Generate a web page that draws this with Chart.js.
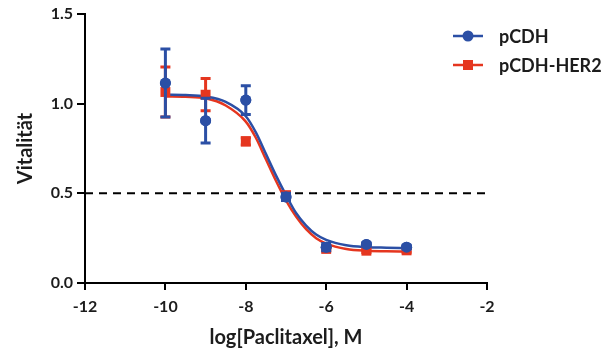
<!DOCTYPE html>
<html>
<head>
<meta charset="utf-8">
<script src="https://cdn.jsdelivr.net/npm/chart.js@4/dist/chart.umd.min.js"></script>
<style>
  body { margin: 0; background: #fff; }
  #wrap { width: 611px; height: 353px; }
</style>
</head>
<body>
<div id="wrap"><canvas id="c"></canvas></div>
<script>
// measured concentrations (log M)
var doses = [-10, -9, -8, -7, -6, -5, -4];

// pCDH means and SEM
var pcdhMean = [1.115, 0.905, 1.02, 0.48, 0.20, 0.215, 0.20];
var pcdhErr  = [0.19, 0.125, 0.08, 0.02, 0.02, 0.01, 0.01];

// pCDH-HER2 means and SEM
var herMean = [1.065, 1.05, 0.79, 0.49, 0.19, 0.18, 0.182];
var herErr  = [0.14, 0.09, 0.02, 0.01, 0.01, 0.01, 0.01];

// fitted curves
var curveX   = [-10, -9.5, -9, -8.5, -8, -7.75, -7.5, -7.25, -7, -6.75, -6.5, -6.25, -6, -5.5, -5, -4.5, -4];
var pcdhFit  = [1.05, 1.048, 1.04, 1.01, 0.93, 0.84, 0.72, 0.60, 0.49, 0.39, 0.32, 0.27, 0.24, 0.21, 0.20, 0.197, 0.195];
var herFit   = [1.04, 1.038, 1.03, 0.99, 0.90, 0.81, 0.69, 0.57, 0.46, 0.37, 0.30, 0.25, 0.22, 0.19, 0.18, 0.177, 0.175];

var xTicks = [-12, -10, -8, -6, -4, -2];
var yTicks = [0, 0.5, 1.0, 1.5];
var halfLine = 0.5;

var blue = '#2b4fa5';
var red = '#e5361f';

function pts(xs, ys) {
  return xs.map(function (x, i) { return { x: x, y: ys[i] }; });
}

// error bars drawn through the scales
var errorBars = {
  id: 'errorBars',
  afterDatasetsDraw: function (chart) {
    var ctx = chart.ctx;
    var xs = chart.scales.x, ys = chart.scales.y;
    [[herMean, herErr, red], [pcdhMean, pcdhErr, blue]].forEach(function (s) {
      ctx.save();
      ctx.strokeStyle = s[2];
      ctx.lineWidth = 3;
      doses.forEach(function (d, i) {
        var px = xs.getPixelForValue(d);
        var top = ys.getPixelForValue(s[0][i] + s[1][i]);
        var bot = ys.getPixelForValue(s[0][i] - s[1][i]);
        ctx.beginPath();
        ctx.moveTo(px, top); ctx.lineTo(px, bot);
        ctx.moveTo(px - 5, top); ctx.lineTo(px + 5, top);
        ctx.moveTo(px - 5, bot); ctx.lineTo(px + 5, bot);
        ctx.stroke();
      });
      ctx.restore();
    });
    // redraw blue points on top of bars
    var meta = chart.getDatasetMeta(3);
    meta.data.forEach(function (p) { p.draw(ctx); });
  }
};

// legend with line + marker
var sideLegend = {
  id: 'sideLegend',
  afterDraw: function (chart) {
    var ctx = chart.ctx;
    var items = [['pCDH', blue, 'circle', 36], ['pCDH-HER2', red, 'rect', 65]];
    ctx.save();
    items.forEach(function (it) {
      var y = it[3];
      ctx.strokeStyle = it[1];
      ctx.lineWidth = 2.5;
      ctx.beginPath(); ctx.moveTo(453, y); ctx.lineTo(483, y); ctx.stroke();
      ctx.fillStyle = it[1];
      if (it[2] === 'circle') {
        ctx.beginPath(); ctx.arc(468, y, 5.5, 0, Math.PI * 2); ctx.fill();
      } else {
        ctx.fillRect(463, y - 5, 10, 10);
      }
      ctx.fillStyle = '#1c1c1c';
      ctx.font = 'bold 18px Lato';
      ctx.textBaseline = 'middle';
      ctx.fillText(it[0], 499, y + 1);
    });
    ctx.restore();
  }
};

new Chart(document.getElementById('c'), {
  type: 'scatter',
  data: {
    datasets: [
      {
        label: 'half',
        type: 'line',
        data: [{ x: -12, y: halfLine }, { x: -2, y: halfLine }],
        borderColor: '#000', borderWidth: 2, borderDash: [8, 6],
        pointRadius: 0, order: 5
      },
      {
        label: 'pCDH-HER2 fit', type: 'line', data: pts(curveX, herFit),
        borderColor: red, borderWidth: 2.5, pointRadius: 0,
        cubicInterpolationMode: 'monotone', order: 4
      },
      {
        label: 'pCDH fit', type: 'line', data: pts(curveX, pcdhFit),
        borderColor: blue, borderWidth: 2.5, pointRadius: 0,
        cubicInterpolationMode: 'monotone', order: 3
      },
      {
        label: 'pCDH', data: pts(doses, pcdhMean),
        pointStyle: 'circle', pointRadius: 5.5,
        backgroundColor: blue, borderColor: blue, borderWidth: 0, order: 1
      },
      {
        label: 'pCDH-HER2', data: pts(doses, herMean),
        pointStyle: 'rect', pointRadius: 7,
        backgroundColor: red, borderColor: red, borderWidth: 0, order: 2
      }
    ]
  },
  options: {
    responsive: true,
    maintainAspectRatio: false,
    animation: false,
    layout: { padding: { left: 0, right: 124, top: 14, bottom: 0 } },
    plugins: { legend: { display: false }, tooltip: { enabled: false } },
    scales: {
      x: {
        type: 'linear', min: -12, max: -2,
        afterBuildTicks: function (s) { s.ticks = xTicks.map(function (v) { return { value: v }; }); },
        afterFit: function (s) { s.height = 70; },
        grid: { drawOnChartArea: false, drawTicks: true, tickLength: 7, color: '#000', lineWidth: 2 },
        border: { color: '#000', width: 2 },
        ticks: { color: '#1c1c1c', font: { family: 'Lato', weight: 'bold', size: 16 }, padding: 7 },
        title: { display: true, text: 'log[Paclitaxel], M', color: '#1c1c1c',
                 font: { family: 'Lato', weight: 'bold', size: 20 }, padding: { top: 4, bottom: 3 } }
      },
      y: {
        min: 0, max: 1.5,
        afterBuildTicks: function (s) { s.ticks = yTicks.map(function (v) { return { value: v }; }); },
        afterFit: function (s) { s.width = 85; },
        grid: { drawOnChartArea: false, drawTicks: true, tickLength: 8, color: '#000', lineWidth: 2 },
        border: { color: '#000', width: 2 },
        ticks: { color: '#1c1c1c', font: { family: 'Lato', weight: 'bold', size: 16 }, padding: 4,
                 callback: function (v) { return Number(v).toFixed(1); } },
        title: { display: true, text: 'Vitalität', color: '#1c1c1c',
                 font: { family: 'Lato', weight: 'bold', size: 20 }, padding: { top: 14, bottom: 0 } }
      }
    }
  },
  plugins: [errorBars, sideLegend]
});
</script>
</body>
</html>
